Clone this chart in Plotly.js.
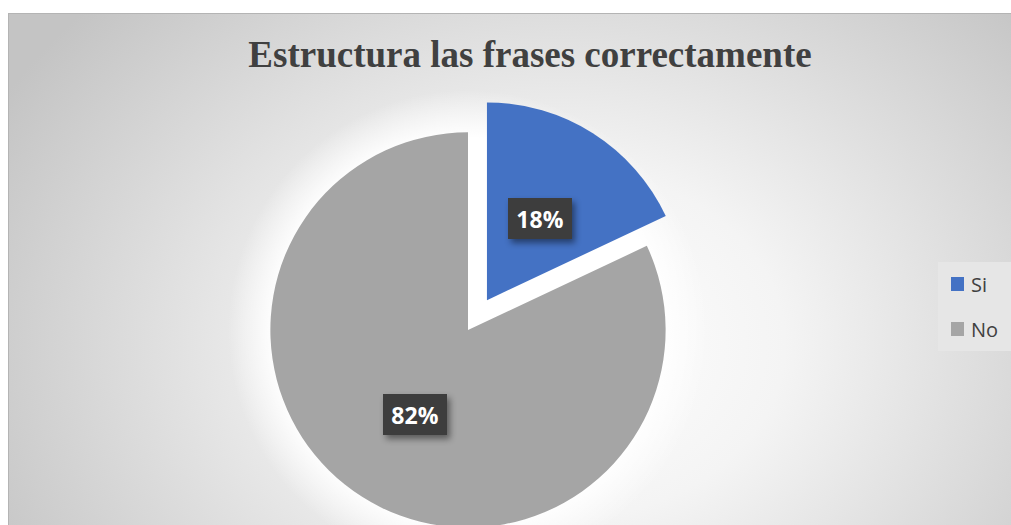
<!DOCTYPE html>
<html>
<head>
<meta charset="utf-8">
<script src="https://cdn.plot.ly/plotly-3.0.1.min.js"></script>
<style>
  html, body { margin:0; padding:0; width:1011px; height:525px; overflow:hidden; background:#ffffff; }
  #frame { position:absolute; left:8px; top:13px; width:1003px; height:600px;
    border-top:1px solid #b4b4b4; border-left:1px solid #b4b4b4;
    background: radial-gradient(ellipse 640px 500px at 552px 330px, #ffffff 0%, #f4f4f4 35%, #c4c4c4 100%); }
  #glow { position:absolute; left:228px; top:90px; width:480px; height:480px; border-radius:50%;
    background: radial-gradient(circle closest-side, rgba(255,255,255,1) 0%, rgba(255,255,255,1) 80%, rgba(255,255,255,0.6) 88%, rgba(255,255,255,0) 100%); }
  #chart { position:absolute; left:0; top:0; width:1011px; height:600px; }
  .annotation rect.bg { filter: drop-shadow(3px 4px 3px rgba(0,0,0,0.45)); }
</style>
</head>
<body>
<div id="frame"></div>
<div id="glow"></div>
<div id="chart"></div>
<script>
// ---- data ----
const chartTitle = "Estructura las frases correctamente";
const labels = ["Si", "No"];
const values = [18, 82];
const sliceColors = ["#4472C4", "#A5A5A5"];
const pulls = [0.179, 0];

// ---- layout helpers (pixel -> paper) ----
const W = 1011, H = 600;
const M = { l: 235, r: 310, t: 97, b: 37 };
const PW = W - M.l - M.r, PH = H - M.t - M.b;
const px = x => (x - M.l) / PW;
const py = y => (H - M.b - y) / PH;

const total = values.reduce((a, b) => a + b, 0);
const pctText = values.map(v => Math.round(v / total * 100) + "%");

const trace = {
  type: "pie",
  labels: labels,
  values: values,
  sort: false,
  direction: "clockwise",
  rotation: 0,
  pull: pulls,
  marker: { colors: sliceColors, line: { width: 0 } },
  textinfo: "none",
  hoverinfo: "skip",
  showlegend: false,
  domain: { x: [0, 1], y: [0, 1] }
};

// data label boxes
const labelPos = [[540, 218], [415, 414]];
const annotations = pctText.map((t, i) => ({
  text: t,
  xref: "paper", yref: "paper",
  x: px(labelPos[i][0]), y: py(labelPos[i][1]),
  xanchor: "center", yanchor: "middle",
  showarrow: false,
  bgcolor: "#3d3d3d",
  borderpad: 0, borderwidth: 0,
  width: 64, height: 41,
  font: { family: "Open Sans", size: 23, color: "#ffffff", weight: "bold" }
}));

// custom legend
const legendRows = [284, 329];
const shapes = [{
  type: "rect", xref: "paper", yref: "paper",
  x0: px(938), x1: px(1011), y0: py(351), y1: py(262),
  fillcolor: "#e6e6e6", line: { width: 0 }, layer: "below"
}];
labels.forEach((lab, i) => {
  shapes.push({
    type: "rect", xref: "paper", yref: "paper",
    x0: px(951), x1: px(964), y0: py(legendRows[i] + 7), y1: py(legendRows[i] - 7),
    fillcolor: sliceColors[i], line: { width: 0 }
  });
  annotations.push({
    text: lab, xref: "paper", yref: "paper",
    x: px(969), y: py(legendRows[i]),
    xanchor: "left", yanchor: "middle", showarrow: false,
    font: { family: "Open Sans", size: 20, color: "#404040" }
  });
});

const layout = {
  width: W, height: H, autosize: false,
  margin: { l: M.l, r: M.r, t: M.t, b: M.b, pad: 0 },
  paper_bgcolor: "rgba(0,0,0,0)",
  plot_bgcolor: "rgba(0,0,0,0)",
  showlegend: false,
  title: {
    text: chartTitle,
    xref: "container", yref: "container",
    x: 530 / W, y: 1 - 54 / H,
    xanchor: "center", yanchor: "middle",
    font: { family: "Liberation Serif", size: 37, color: "#404040", weight: "bold" }
  },
  annotations: annotations,
  shapes: shapes
};

Plotly.newPlot("chart", [trace], layout, { displayModeBar: false, staticPlot: true });
</script>
</body>
</html>
